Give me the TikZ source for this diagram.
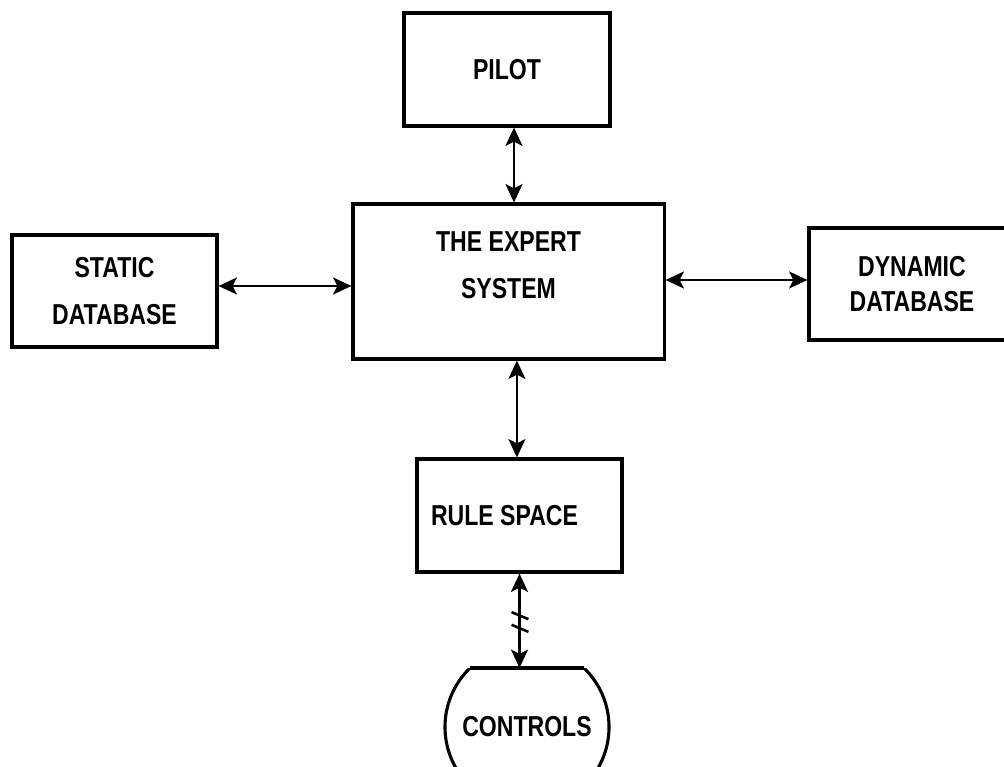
\documentclass[tikz,border=0pt]{standalone}
\usepackage{fontspec}
\setmainfont[FakeStretch=0.8]{Liberation Sans}
\usetikzlibrary{arrows.meta,positioning}
\tikzset{
  block/.style  = {shape=rectangle, draw, line width=2.2pt, align=center,
                   font=\fontsize{20.5}{25}\selectfont\bfseries},
  tallrows/.style = {font=\fontsize{20.5}{33.4}\selectfont\bfseries},
  link/.style   = {{Stealth[length=13pt,width=12pt,inset=3pt]}-{Stealth[length=13pt,width=12pt,inset=3pt]}, line width=2pt}
}
\begin{document}
\begin{tikzpicture}[x=0.025cm,y=-0.025cm]
\useasboundingbox (0,0) rectangle (1004,767);
% boxes
\node [block, minimum width=5.15cm, minimum height=2.825cm] (pilot) at (507,69.5) {PILOT};
\node [block, tallrows, minimum width=7.775cm, minimum height=3.875cm, text depth=0.8cm] (expert) at (508.5,281.5) {THE EXPERT\\SYSTEM};
\node [block, tallrows, minimum width=5.125cm, minimum height=2.8cm] (static) at (114.5,291) {STATIC\\DATABASE};
\node [block, minimum width=5.15cm, minimum height=2.8cm] (dynamic) at (912,284) {DYNAMIC\\DATABASE};
\node [block, minimum width=5.125cm, minimum height=2.825cm] (rule) at (519.5,515.5) {RULE SPACE\hspace*{0.75cm}};
\node [circle, minimum size=4.1cm, font=\fontsize{20.5}{25}\selectfont\bfseries] (controls) at (527,727) {CONTROLS};
% controls outline
\coordinate (ctop) at ([yshift=1.475cm]controls.center);
\begin{scope}
  \clip (430,668) rectangle (625,790);
  \draw [line width=2.2pt] (controls.center) circle (2.05cm);
\end{scope}
\draw [line width=2.2pt] ([xshift=-1.42cm]ctop) -- ([xshift=1.42cm]ctop);
% connectors
\draw [link] ([xshift=0.175cm]pilot.south) -- ([xshift=0.175cm]pilot.south |- expert.north);
\draw [link] ([yshift=0.125cm]static.east) -- ([yshift=0.125cm]static.east -| expert.west);
\draw [link] ([yshift=0.1cm]dynamic.west -| expert.east) -- ([yshift=0.1cm]dynamic.west);
\draw [link] ([xshift=0.21cm]expert.south) -- ([xshift=0.21cm]expert.south |- rule.north);
\draw [link] (rule.south) -- (rule.south |- ctop);
% break mark
\coordinate (brk) at (520,622);
\draw [line width=1.8pt] ([xshift=-6,yshift=-2]brk) -- ([xshift=6,yshift=-7]brk)
                         ([xshift=-6,yshift=7]brk) -- ([xshift=6,yshift=2]brk);
\end{tikzpicture}
\end{document}
